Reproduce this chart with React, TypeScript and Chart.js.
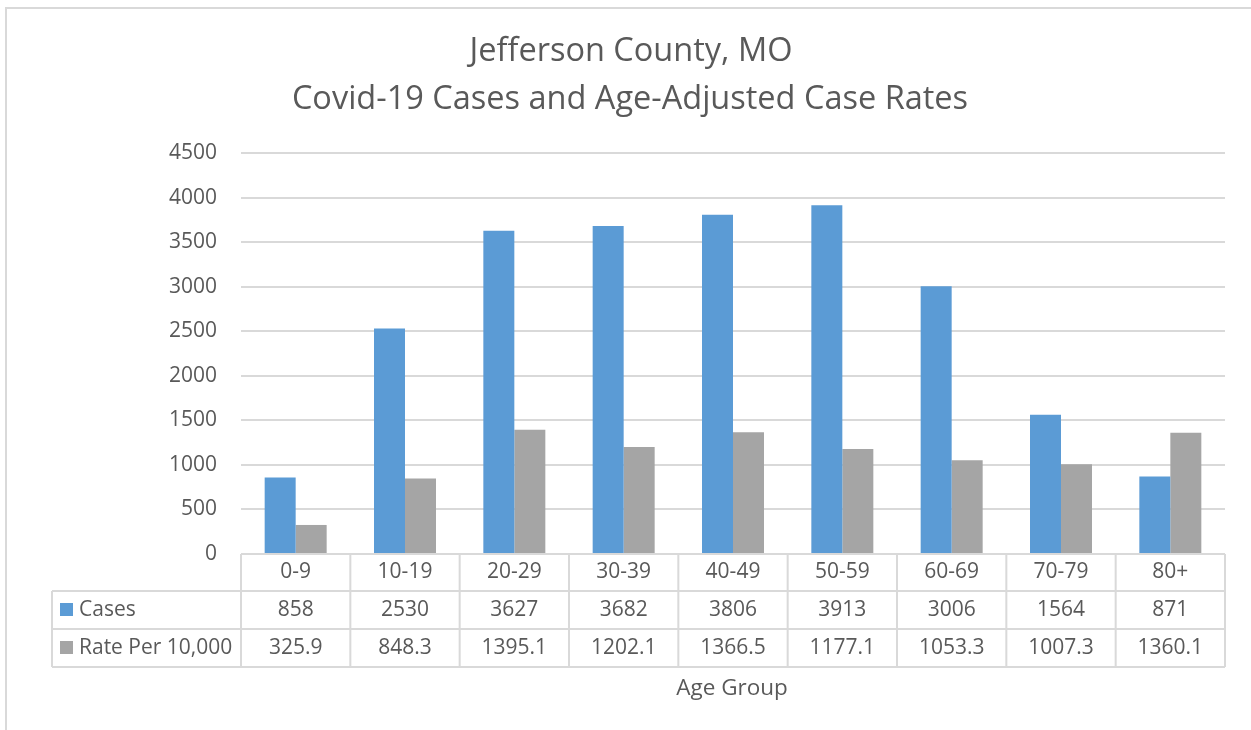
import React, { useEffect, useRef } from "react";
import { Chart, registerables } from "chart.js";
Chart.register(...registerables);

const categories = ["0-9", "10-19", "20-29", "30-39", "40-49", "50-59", "60-69", "70-79", "80+"];
const cases = [858, 2530, 3627, 3682, 3806, 3913, 3006, 1564, 871];
const rates = [325.9, 848.3, 1395.1, 1202.1, 1366.5, 1177.1, 1053.3, 1007.3, 1360.1];
const caseLabels = ["858", "2530", "3627", "3682", "3806", "3913", "3006", "1564", "871"];
const rateLabels = ["325.9", "848.3", "1395.1", "1202.1", "1366.5", "1177.1", "1053.3", "1007.3", "1360.1"];
const seriesNames = ["Cases", "Rate Per 10,000"];
const titleLines = ["Jefferson County, MO", "Covid-19 Cases and Age-Adjusted Case Rates"];
const xAxisTitle = "Age Group";

const BLUE = "#5B9BD5";
const GRAY = "#A5A5A5";
const TEXT = "#595959";
const LINE = "#D9D9D9";
const FONT = "'Open Sans', sans-serif";

const decorPlugin = {
  id: "decor",
  beforeDraw(chart: any) {
    const ctx = chart.ctx;
    ctx.save();
    ctx.fillStyle = "#ffffff";
    ctx.fillRect(0, 0, chart.width, chart.height);
    ctx.strokeStyle = LINE;
    ctx.lineWidth = 2;
    ctx.strokeRect(6, 8, chart.width + 20, chart.height + 20);
    ctx.restore();
  },
  afterDraw(chart: any) {
    const ctx = chart.ctx;
    const area = chart.chartArea;
    const n = categories.length;
    const colW = (area.right - area.left) / n;
    const top = area.bottom;
    const rows = [top, top + 37, top + 75, top + 113];
    const legendLeft = 52;
    ctx.save();
    // title
    ctx.fillStyle = TEXT;
    ctx.textAlign = "center";
    ctx.textBaseline = "middle";
    ctx.font = `32.5px ${FONT}`;
    ctx.fillText(titleLines[0], 631, 52);
    ctx.fillText(titleLines[1], 630, 100);

    // table lines
    ctx.strokeStyle = LINE;
    ctx.lineWidth = 2;
    ctx.beginPath();
    ctx.moveTo(area.left, rows[0]);
    ctx.lineTo(area.right, rows[0]);
    for (let r = 1; r < 4; r++) {
      ctx.moveTo(legendLeft, rows[r]);
      ctx.lineTo(area.right, rows[r]);
    }
    for (let i = 0; i <= n; i++) {
      const x = area.left + i * colW;
      ctx.moveTo(x, rows[0]);
      ctx.lineTo(x, rows[3]);
    }
    ctx.moveTo(legendLeft, rows[1]);
    ctx.lineTo(legendLeft, rows[3]);
    ctx.stroke();

    // table text
    ctx.font = `21px ${FONT}`;
    ctx.fillStyle = TEXT;
    ctx.textAlign = "center";
    ctx.textBaseline = "middle";
    const xScale = chart.scales.x;
    for (let i = 0; i < n; i++) {
      const cx = xScale.getPixelForValue(i);
      ctx.fillText(categories[i], cx, (rows[0] + rows[1]) / 2);
      ctx.fillText(caseLabels[i], cx, (rows[1] + rows[2]) / 2);
      ctx.fillText(rateLabels[i], cx, (rows[2] + rows[3]) / 2);
    }
    // legend column
    const colors = [BLUE, GRAY];
    for (let r = 0; r < 2; r++) {
      const cy = (rows[r + 1] + rows[r + 2]) / 2;
      ctx.fillStyle = colors[r];
      ctx.fillRect(60, cy - 7, 13, 13);
      ctx.fillStyle = TEXT;
      ctx.textAlign = "left";
      ctx.fillText(seriesNames[r], 79, cy);
    }
    // axis title
    ctx.font = `22.5px ${FONT}`;
    ctx.textAlign = "center";
    ctx.fillText(xAxisTitle, 732, 689);
    ctx.restore();
  },
};

export default function App() {
  const ref = useRef<HTMLCanvasElement | null>(null);
  useEffect(() => {
    if (!ref.current) return;
    const chart = new Chart(ref.current, {
      type: "bar",
      data: {
        labels: categories,
        datasets: [
          { label: seriesNames[0], data: cases, backgroundColor: BLUE, categoryPercentage: 0.567, barPercentage: 1 },
          { label: seriesNames[1], data: rates, backgroundColor: GRAY, categoryPercentage: 0.567, barPercentage: 1 },
        ],
      },
      options: {
        animation: false,
        responsive: false,
        layout: { padding: { left: 0, right: 26, top: 153, bottom: 176 } },
        plugins: { legend: { display: false }, title: { display: false }, tooltip: { enabled: false } },
        scales: {
          x: { display: false },
          y: {
            min: 0,
            max: 4500,
            afterFit: (s: any) => { s.width = 241; },
            ticks: {
              stepSize: 500,
              color: TEXT,
              font: { family: FONT, size: 21 },
              padding: 24,
              callback: (v: any) => String(v),
            },
            grid: { color: LINE, lineWidth: 2, drawTicks: false },
            border: { display: false },
          },
        },
      },
      plugins: [decorPlugin],
    });
    return () => chart.destroy();
  }, []);
  return (
    <div style={{ position: "fixed", left: 0, top: 0, width: 1251, height: 730, background: "#fff" }}>
      <canvas ref={ref} width={1251} height={730} style={{ width: 1251, height: 730, display: "block" }} />
    </div>
  );
}
